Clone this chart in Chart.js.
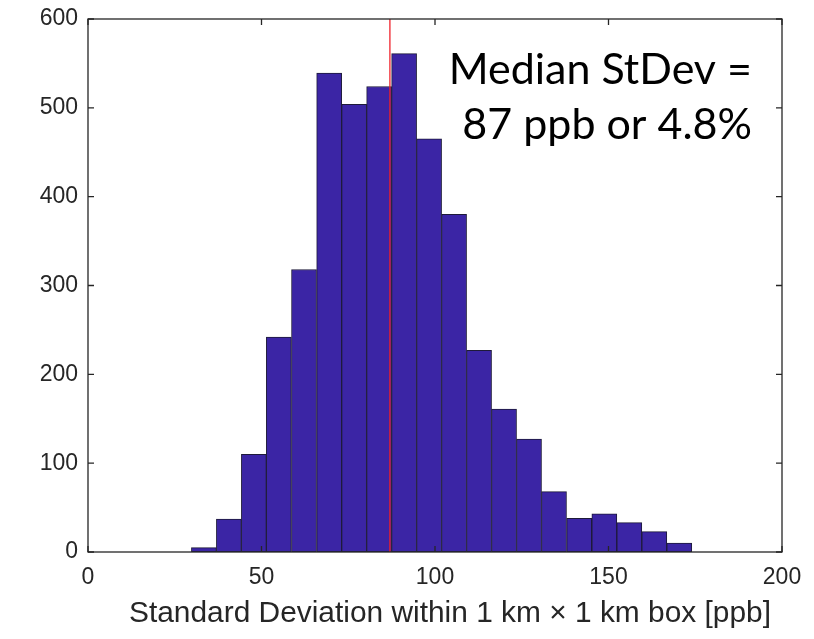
<!DOCTYPE html>
<html>
<head>
<meta charset="utf-8">
<script src="https://cdn.jsdelivr.net/npm/chart.js@4/dist/chart.umd.min.js"></script>
<style>
  html, body { margin: 0; padding: 0; background: #fff; }
  canvas { display: block; }
</style>
</head>
<body>
<canvas id="hist" width="814" height="639"></canvas>
<script>
// bin edges of the histogram (ppb) and counts per bin
const binEdges = [29.8, 37.0, 44.2, 51.4, 58.6, 65.9, 73.1, 80.3, 87.5, 94.7, 101.9,
                  109.1, 116.3, 123.5, 130.7, 137.9, 145.2, 152.4, 159.6, 166.8, 174.0];
const binCounts = [5, 37, 110, 242, 318, 539, 504, 524, 561, 465,
                   380, 227, 161, 127, 68, 38, 43, 33, 23, 10];
const medianValue = 87;
const xTicks = [0, 50, 100, 150, 200];
const yTicks = [0, 100, 200, 300, 400, 500, 600];
const noteLines = ['Median StDev =', '87 ppb or 4.8%'];
const xTitle = 'Standard Deviation within 1 km \u00d7 1 km box [ppb]';

// bars sit at the middle of each bin
let barPoints = [];
binCounts.forEach(function(count, i) {
    barPoints.push({x: (binEdges[i] + binEdges[i + 1]) / 2, y: count});
});

const axisColor = '#262626';

// draws the MATLAB-style box with inward ticks, the axis title and the note text
const boxPlugin = {
    id: 'boxPlugin',
    afterDatasetsDraw(chart) {
        const c = chart.ctx;
        const a = chart.chartArea;
        const xs = chart.scales.x;
        const ys = chart.scales.y;
        c.save();
        c.strokeStyle = axisColor;
        c.lineWidth = 1.3;
        c.strokeRect(a.left, a.top, a.right - a.left, a.bottom - a.top);
        c.beginPath();
        yTicks.forEach(function(v) {
            const py = ys.getPixelForValue(v);
            c.moveTo(a.left, py); c.lineTo(a.left + 6, py);
            c.moveTo(a.right, py); c.lineTo(a.right - 6, py);
        });
        xTicks.forEach(function(v) {
            const px = xs.getPixelForValue(v);
            c.moveTo(px, a.bottom); c.lineTo(px, a.bottom - 6);
            c.moveTo(px, a.top); c.lineTo(px, a.top + 6);
        });
        c.stroke();

        // x axis title
        c.fillStyle = axisColor;
        c.font = '30px "Liberation Sans", Arial';
        c.textAlign = 'center';
        c.textBaseline = 'middle';
        c.fillText(xTitle, 450, 614, 642);

        // note in the upper right
        c.fillStyle = '#000';
        c.font = '43px Lato';
        c.textAlign = 'right';
        c.textBaseline = 'alphabetic';
        c.fillText(noteLines[0], 752, 84, 305);
        c.fillText(noteLines[1], 752, 139, 294);
        c.restore();
    }
};

const ctx = document.getElementById('hist').getContext('2d');

var chart = new Chart(ctx, {
    type: 'bar',
    data: {
        datasets: [{
            type: 'bar',
            data: barPoints,
            backgroundColor: '#3b25a5',
            borderColor: '#1e1a3a',
            borderWidth: 1,
            borderSkipped: false,
            barPercentage: 1.0,
            categoryPercentage: 1.0,
            order: 2
        }, {
            type: 'line',
            data: [{x: medianValue, y: 0}, {x: medianValue, y: 600}],
            borderColor: 'rgba(240, 30, 40, 0.85)',
            borderWidth: 1.5,
            pointRadius: 0,
            order: 1
        }]
    },
    options: {
        responsive: false,
        animation: false,
        events: [],
        layout: {padding: {top: 19, right: 32, left: 0, bottom: 0}},
        plugins: {
            legend: {display: false},
            tooltip: {enabled: false}
        },
        scales: {
            x: {
                type: 'linear',
                min: 0,
                max: 200,
                offset: false,
                afterBuildTicks: function(scale) {
                    scale.ticks = xTicks.map(function(v) { return {value: v}; });
                },
                afterFit: function(scale) { scale.height = 87; },
                grid: {display: false, drawTicks: false},
                border: {display: false},
                ticks: {
                    color: axisColor,
                    font: {family: 'Liberation Sans, Arial', size: 23},
                    padding: 12,
                    maxRotation: 0
                }
            },
            y: {
                min: 0,
                max: 600,
                afterBuildTicks: function(scale) {
                    scale.ticks = yTicks.map(function(v) { return {value: v}; });
                },
                afterFit: function(scale) {
                    scale.width = 88;
                    scale.paddingTop = 0;
                    scale.paddingBottom = 0;
                },
                grid: {display: false, drawTicks: false},
                border: {display: false},
                ticks: {
                    color: axisColor,
                    font: {family: 'Liberation Sans, Arial', size: 23},
                    padding: 10
                }
            }
        }
    },
    plugins: [boxPlugin]
});
</script>
</body>
</html>
